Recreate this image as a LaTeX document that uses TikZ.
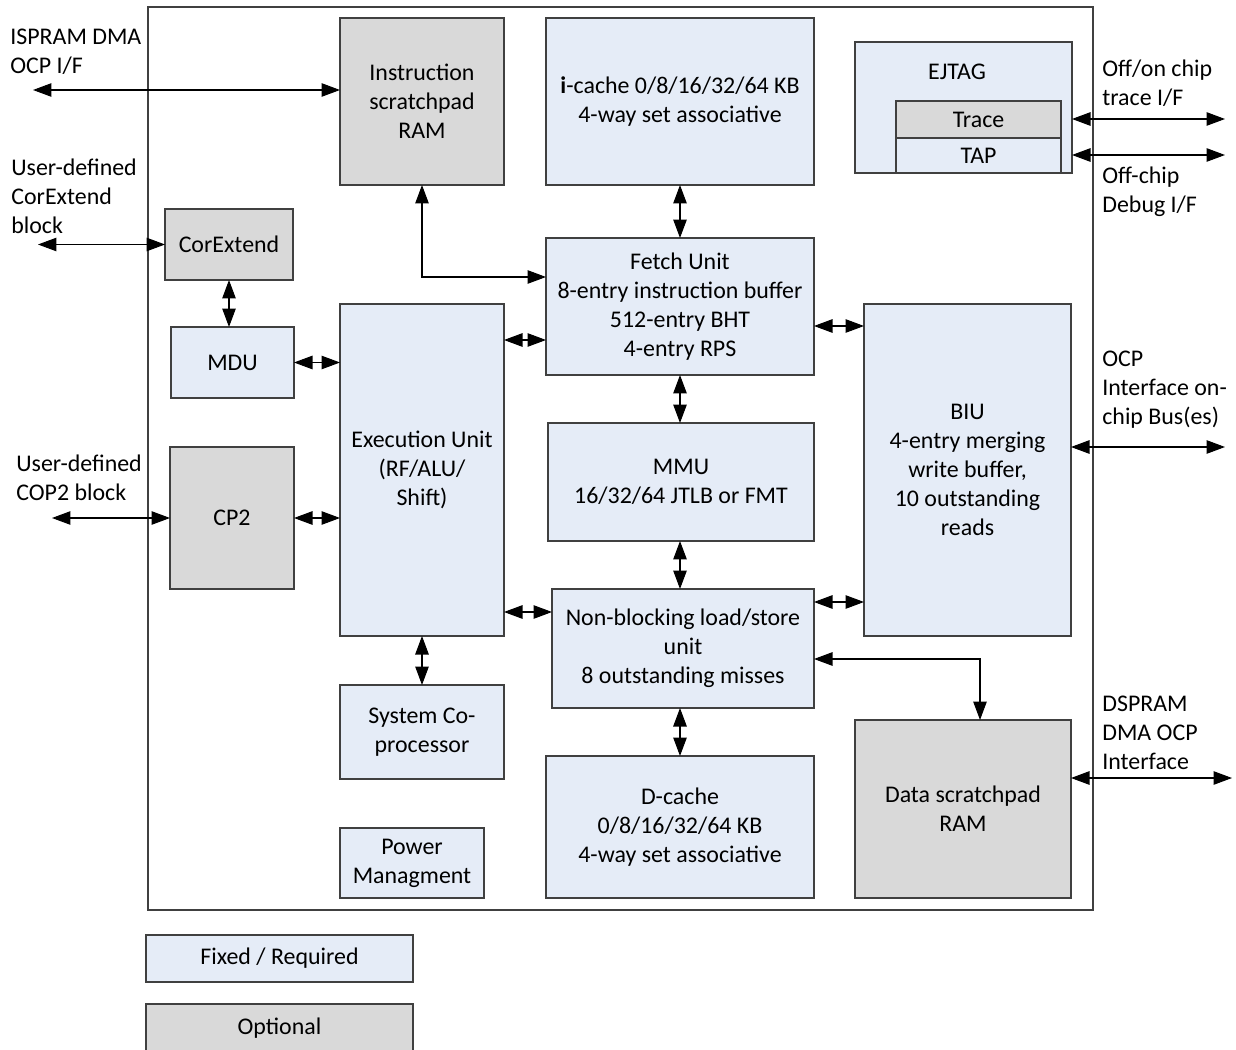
\documentclass[tikz,border=0pt]{standalone}
\usepackage{fontspec}
\setmainfont{Carlito}
\usetikzlibrary{arrows.meta}
\definecolor{fixedblue}{HTML}{E5ECF7}
\definecolor{optgrey}{HTML}{D9D9D9}
\definecolor{edgec}{HTML}{404040}
\begin{document}
\begin{tikzpicture}[x=0.02cm,y=-0.02cm,
  font=\fontsize{13.6}{16.5}\selectfont,
  blk/.style={draw=edgec,line width=0.6pt,inner sep=0pt,outer sep=0pt,align=center,text=black},
  req/.style={blk,fill=fixedblue},
  opt/.style={blk,fill=optgrey},
  sz/.style 2 args={minimum width=#1*0.02cm,minimum height=#2*0.02cm},
  bi/.style={line width=0.6pt,{Triangle[length=0.37cm,width=0.27cm]}-{Triangle[length=0.37cm,width=0.27cm]}},
  lbl/.style={align=left,anchor=north west,inner sep=0pt}]
\useasboundingbox (0,0) rectangle (1236,1050);
% outer frame
\node[draw=edgec,line width=0.6pt,inner sep=0pt,outer sep=0pt,sz={945}{903}] (frame) at (620.5,458.5) {};
% blocks
\node[opt,sz={164}{167}] (isp) at (422,101.5) {Instruction\\scratchpad\\RAM};
\node[req,sz={268}{167}] (icache) at (680,101.5) {\textbf{i}-cache 0/8/16/32/64 KB\\4-way set associative};
\node[req,sz={217}{131}] (ejtag) at (963.5,107.5) {};
\node[inner sep=0pt] (ejtaglbl) at (957,72) {EJTAG};
\node[opt,sz={165}{37}] (trace) at (978.5,119.5) {Trace};
\node[req,sz={165}{35}] (tap) at (978.5,155.5) {TAP};
\node[opt,sz={128}{71}] (corext) at (229,244.5) {CorExtend};
\node[req,sz={123}{71}] (mdu) at (232.5,362.5) {MDU};
\node[opt,sz={124}{142}] (cp2) at (232,518) {CP2};
\node[req,sz={164}{332}] (exec) at (422,470) {Execution Unit\\(RF/ALU/\\Shift)};
\node[req,sz={268}{137}] (fetch) at (680,306.5) {Fetch Unit\\8-entry instruction buffer\\512-entry BHT\\4-entry RPS};
\node[req,sz={266}{118}] (mmu) at (681,482) {MMU\\16/32/64 JTLB or FMT};
\node[req,sz={262}{119}] (nb) at (683,648.5) {Non-blocking load/store\\unit\\8 outstanding misses};
\node[req,sz={164}{94}] (sys) at (422,732) {System Co-\\processor};
\node[req,sz={144}{70}] (pwr) at (412,863) {Power\\Managment};
\node[req,sz={268}{142}] (dcache) at (680,827) {D-cache\\0/8/16/32/64 KB\\4-way set associative};
\node[req,sz={207}{332}] (biu) at (967.5,470) {BIU\\4-entry merging\\write buffer,\\10 outstanding\\reads};
\node[opt,sz={216}{178}] (dsp) at (963,809) {Data scratchpad\\RAM};
% legend
\node[req,sz={267}{47}] (fixed) at (279.5,958.5) {Fixed / Required};
\node[opt,sz={267}{48}] (optional) at (279.5,1028) {Optional};
% external labels
\node[lbl] (l1) at (10,29) {ISPRAM DMA\\OCP I/F};
\node[lbl] (l2) at (11,159) {User-defined\\CorExtend\\block};
\node[lbl] (l3) at (16,455) {User-defined\\COP2 block};
\node[lbl] (l4) at (1102,60) {Off/on chip\\trace I/F};
\node[lbl] (l5) at (1102,167) {Off-chip\\Debug I/F};
\node[lbl] (l6) at (1102,351) {OCP\\Interface on-\\chip Bus(es)};
\node[lbl] (l7) at (1102,696) {DSPRAM\\DMA OCP\\Interface};
% external connector ends
\coordinate (ispext) at (33,90);
\coordinate (corext-ext) at (38,244.5);
\coordinate (cp2ext) at (52,518);
\coordinate (trext) at (1225,119);
\coordinate (tapext) at (1225,155);
\coordinate (ocpext) at (1225,447);
\coordinate (dspext) at (1232,778);
\coordinate (bend1) at (422,277);
\coordinate (bend2) at (980,659);
% external connectors
\draw[bi] (ispext) -- (isp.west |- ispext);
\draw[bi] (corext-ext) -- (corext.west);
\draw[bi] (cp2ext) -- (cp2.west);
\draw[bi] (ejtag.east |- trext) -- (trext);
\draw[bi] (ejtag.east |- tapext) -- (tapext);
\draw[bi] (biu.east |- ocpext) -- (ocpext);
\draw[bi] (dsp.east |- dspext) -- (dspext);
% internal connectors
\draw[bi] (isp.south) -- (bend1) -- (bend1 -| fetch.west);
\draw[bi] (icache.south) -- (fetch.north);
\draw[bi] (corext.south) -- (corext.south |- mdu.north);
\draw[bi] (mdu.east) -- (exec.west |- mdu.east);
\draw[bi] (cp2.east) -- (exec.west |- cp2.east);
\draw[bi] (exec.east |- 0,340) -- (fetch.west |- 0,340);
\draw[bi] (exec.east |- 0,612) -- (nb.west |- 0,612);
\draw[bi] (exec.south) -- (sys.north);
\draw[bi] (fetch.south) -- (fetch.south |- mmu.north);
\draw[bi] (fetch.east |- 0,326) -- (biu.west |- 0,326);
\draw[bi] (mmu.south -| fetch.south) -- (fetch.south |- nb.north);
\draw[bi] (nb.east |- 0,602) -- (biu.west |- 0,602);
\draw[bi] (bend2 -| nb.east) -- (bend2) -- (bend2 |- dsp.north);
\draw[bi] (nb.south -| fetch.south) -- (fetch.south |- dcache.north);
\end{tikzpicture}
\end{document}
